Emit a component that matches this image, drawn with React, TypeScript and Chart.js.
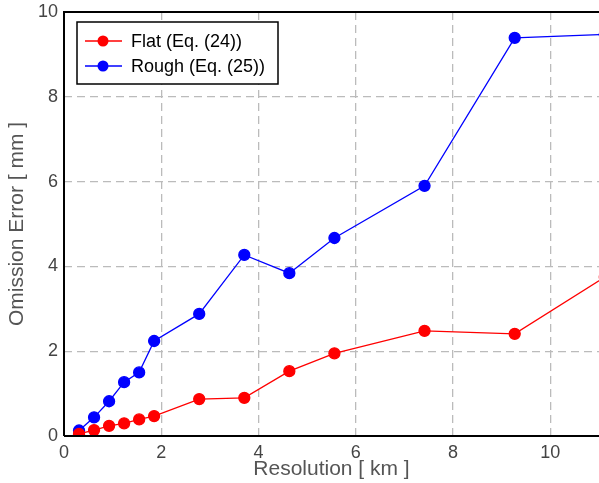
import React, { useEffect, useRef } from "react";
import { Chart, registerables } from "chart.js";

Chart.register(...registerables);

const resolutionKm = [0.309, 0.618, 0.927, 1.236, 1.545, 1.853, 2.78, 3.707, 4.633, 5.56, 7.413, 9.267, 11.12];
const flatValues = [0.05, 0.14, 0.24, 0.30, 0.39, 0.47, 0.87, 0.90, 1.53, 1.95, 2.48, 2.41, 3.75];
const roughValues = [0.13, 0.44, 0.82, 1.27, 1.50, 2.24, 2.88, 4.27, 3.84, 4.67, 5.90, 9.39, 9.47];
const xTicks = [0, 2, 4, 6, 8, 10];
const yTicks = [0, 2, 4, 6, 8, 10];
const seriesLabels = ["Flat (Eq. (24))", "Rough (Eq. (25))"];

const FONT = "'Liberation Sans', Arial, sans-serif";

const framePlugin = {
  id: "frame",
  afterDatasetsDraw(chart: any) {
    const { ctx, chartArea } = chart;
    ctx.save();
    ctx.strokeStyle = "#000";
    ctx.lineWidth = 2;
    ctx.beginPath();
    ctx.moveTo(chartArea.left, chartArea.bottom);
    ctx.lineTo(chartArea.left, chartArea.top);
    ctx.lineTo(chartArea.right, chartArea.top);
    ctx.moveTo(chartArea.left, chartArea.bottom);
    ctx.lineTo(chartArea.right, chartArea.bottom);
    ctx.stroke();
    ctx.restore();
  },
};

const boxLegendPlugin = {
  id: "boxLegend",
  afterDraw(chart: any) {
    const { ctx, chartArea } = chart;
    const x0 = chartArea.left + 13;
    const y0 = chartArea.top + 10;
    const w = 201;
    const h = 62;
    ctx.save();
    ctx.fillStyle = "#fff";
    ctx.fillRect(x0, y0, w, h);
    ctx.strokeStyle = "#000";
    ctx.lineWidth = 1.5;
    ctx.strokeRect(x0, y0, w, h);
    chart.data.datasets.forEach((ds: any, i: number) => {
      const cy = y0 + 19 + i * 25;
      ctx.strokeStyle = ds.borderColor;
      ctx.lineWidth = 1.3;
      ctx.beginPath();
      ctx.moveTo(x0 + 8, cy);
      ctx.lineTo(x0 + 45, cy);
      ctx.stroke();
      ctx.fillStyle = ds.backgroundColor;
      ctx.beginPath();
      ctx.arc(x0 + 26, cy, 5.5, 0, Math.PI * 2);
      ctx.fill();
      ctx.fillStyle = "#000";
      ctx.font = `18px ${FONT}`;
      ctx.textBaseline = "middle";
      ctx.textAlign = "left";
      ctx.fillText(ds.label, x0 + 54, cy + 1);
    });
    ctx.restore();
  },
};

export default function App() {
  const ref = useRef<HTMLCanvasElement>(null);
  useEffect(() => {
    if (!ref.current) return;
    const mk = (label: string, vals: number[], color: string) => ({
      label,
      data: resolutionKm.map((x, i) => ({ x, y: vals[i] })),
      borderColor: color,
      backgroundColor: color,
      pointBackgroundColor: color,
      pointBorderColor: color,
      pointRadius: 5.5,
      borderWidth: 1.3,
      tension: 0,
    });
    const chart = new Chart(ref.current, {
      type: "line",
      data: {
        datasets: [
          mk(seriesLabels[0], flatValues, "#ff0000"),
          mk(seriesLabels[1], roughValues, "#0000ff"),
        ],
      },
      plugins: [framePlugin, boxLegendPlugin],
      options: {
        responsive: false,
        animation: false,
        devicePixelRatio: 1,
        layout: { autoPadding: false, padding: { left: 1, top: 12, right: 0, bottom: 0 } },
        plugins: { legend: { display: false }, tooltip: { enabled: false } },
        scales: {
          x: {
            type: "linear",
            min: 0,
            max: 11,
            afterFit: (s: any) => { s.height = 47; s.paddingLeft = 0; s.paddingRight = 0; },
            afterBuildTicks: (s: any) => { s.ticks = xTicks.map((v) => ({ value: v })); },
            grid: { color: "#bbbbbb", lineWidth: 1.3, drawTicks: false },
            border: { display: false, dash: [8, 5] },
            ticks: { color: "#444", font: { family: FONT, size: 18 }, padding: 6 },
            title: { display: true, text: "Resolution [ km ]", color: "#555", font: { family: FONT, size: 21 }, padding: { top: 0, bottom: 1 } },
          },
          y: {
            min: 0,
            max: 10,
            afterFit: (s: any) => { s.width = 63; s.paddingTop = 0; s.paddingBottom = 0; },
            afterBuildTicks: (s: any) => { s.ticks = yTicks.map((v) => ({ value: v })); },
            grid: { color: "#bbbbbb", lineWidth: 1.3, drawTicks: false },
            border: { display: false, dash: [8, 5] },
            ticks: { color: "#444", font: { family: FONT, size: 18 }, padding: 6 },
            title: { display: true, text: "Omission Error [ mm ]", color: "#555", font: { family: FONT, size: 21 }, padding: { top: 4, bottom: 0 } },
          },
        },
      },
    } as any);
    return () => chart.destroy();
  }, []);
  return (
    <div style={{ position: "absolute", left: 0, top: 0 }}>
      <canvas ref={ref} width={599} height={483} style={{ display: "block", width: 599, height: 483 }} />
    </div>
  );
}
